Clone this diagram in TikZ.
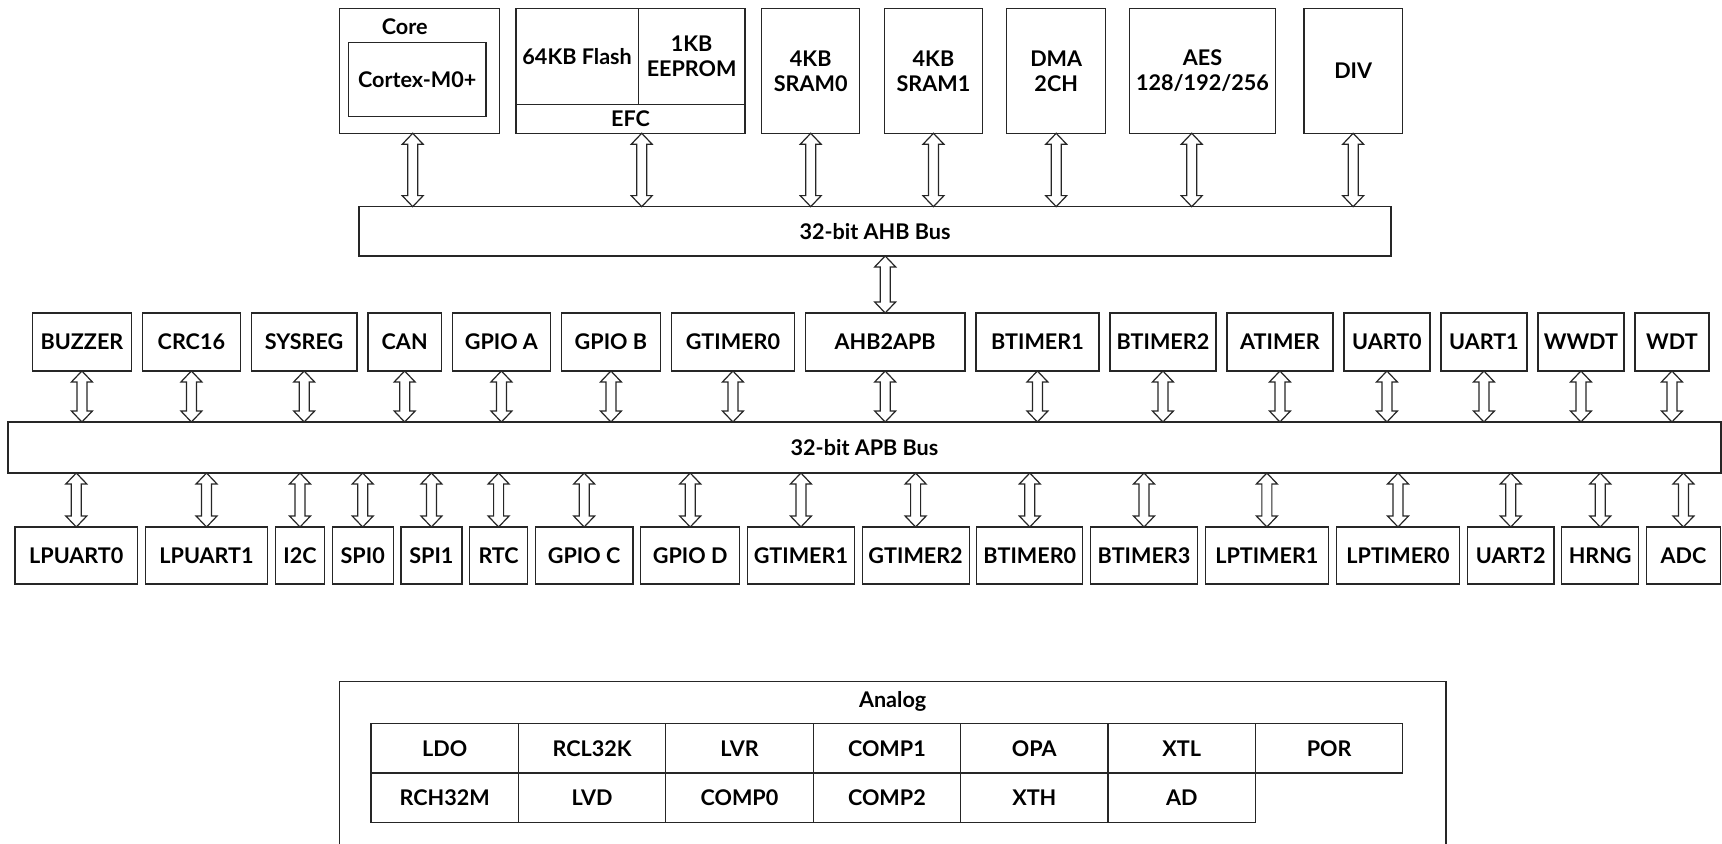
\documentclass[tikz,border=0pt]{standalone}
\usepackage{fontspec}
\setmainfont{Lato}
\usepackage{tikz}
\usetikzlibrary{positioning,calc}

\tikzset{
  box/.style={rectangle,draw=black!85,line width=0.6pt,inner sep=0pt,outer sep=0pt,
              align=center,font=\fontsize{10.8}{12.5}\selectfont\bfseries},
  master/.style={box,anchor=north west,minimum width=#1,minimum height=62.5pt},
  periph/.style={box,minimum width=#1,minimum height=29pt},
  lowper/.style={box,minimum width=#1,minimum height=28.5pt},
  cell/.style={box,minimum width=73.7pt,minimum height=24.75pt},
  lab/.style={inner sep=0pt,font=\fontsize{10.8}{12.5}\selectfont\bfseries},
  % hollow double-headed bus arrow, always drawn from the upper end to the lower end
  hollow/.style={draw=black!85,fill=white,line width=0.6pt,
    to path={let \p1=(\tikztostart), \p2=(\tikztotarget) in
      (\x1,\y1) -- ++(5.25pt,-5.5pt) -- ++(-2.75pt,0pt) -- ({\x1+2.5pt},{\y2+5.5pt})
      -- ++(2.75pt,0pt) -- (\x1,\y2) -- ++(-5.25pt,5.5pt) -- ++(2.75pt,0pt)
      -- ({\x1-2.5pt},{\y1-5.5pt}) -- ++(-2.75pt,0pt) -- cycle}}
}

\begin{document}
\begin{tikzpicture}[x=0.5pt,y=-0.5pt,node distance=5.5pt]
\useasboundingbox (0,0) rectangle (1722,844);
\clip (0,0) rectangle (1722,844);

% AHB masters and memories
\node[master=80pt] (core) at (339.3,8.3) {};
\node[lab] (corelab) at (404.7,27) {Core};
\node[box,minimum width=68.85pt,minimum height=37pt] (cortex) at (417.2,79.7) {Cortex-M0+};
\node[box,anchor=north west,minimum width=61.15pt,minimum height=48pt] (flash) at (516,8.3) {64KB Flash};
\node[box,anchor=north west,minimum width=53.35pt,minimum height=48pt] (eeprom) at (flash.north east) {1KB\\EEPROM};
\node[box,anchor=north west,minimum width=114.5pt,minimum height=14.5pt] (efc) at (flash.south west) {EFC};
\node[master=49pt] (sram0) at (761.7,8.3) {4KB\\SRAM0};
\node[master=49.15pt] (sram1) at (884.3,8.3) {4KB\\SRAM1};
\node[master=49.5pt] (dma) at (1006.7,8.3) {DMA\\2CH};
\node[master=73.2pt] (aes) at (1129.3,8.3) {AES\\128/192/256};
\node[master=49.15pt] (div) at (1304,8.3) {DIV};

\node[box,minimum width=516pt,minimum height=24.65pt] (ahb) at (875,231.3) {32-bit AHB Bus};
\node[box,minimum width=856.5pt,minimum height=25.5pt] (apb) at (864.5,447.5) {32-bit APB Bus};

% peripherals above the APB bus
\node[periph=49.5pt,anchor=north west] (buzzer) at (32.4,313) {BUZZER};
\node[periph=49pt,right=of buzzer] (crc) {CRC16};
\node[periph=52.75pt,right=of crc] (sysreg) {SYSREG};
\node[periph=36.75pt,right=of sysreg] (can) {CAN};
\node[periph=49pt,right=of can] (gpioa) {GPIO A};
\node[periph=49.5pt,right=of gpioa] (gpiob) {GPIO B};
\node[periph=61.5pt,right=of gpiob] (gtimer0) {GTIMER0};
\node[periph=79.75pt,right=of gtimer0] (ahbapb) {AHB2APB};
\node[periph=61.5pt,right=of ahbapb] (btimer1) {BTIMER1};
\node[periph=53pt,right=of btimer1] (btimer2) {BTIMER2};
\node[periph=53pt,right=of btimer2] (atimer) {ATIMER};
\node[periph=43pt,right=of atimer] (uart0) {UART0};
\node[periph=43pt,right=of uart0] (uart1) {UART1};
\node[periph=43pt,right=of uart1] (wwdt) {WWDT};
\node[periph=37pt,right=of wwdt] (wdt) {WDT};

% peripherals below the APB bus
\node[lowper=61.3pt,anchor=north west] (lpuart0) at (15,527) {LPUART0};
\node[lowper=61.25pt,right=3.85pt of lpuart0] (lpuart1) {LPUART1};
\node[lowper=24.5pt,right=3.85pt of lpuart1] (iic) {I2C};
\node[lowper=30.5pt,right=3.85pt of iic] (spi0) {SPI0};
\node[lowper=30.5pt,right=3.85pt of spi0] (spi1) {SPI1};
\node[lowper=29pt,right=3.85pt of spi1] (rtc) {RTC};
\node[lowper=48.85pt,right=3.85pt of rtc] (gpioc) {GPIO C};
\node[lowper=49.5pt,right=3.85pt of gpioc] (gpiod) {GPIO D};
\node[lowper=53.5pt,right=3.85pt of gpiod] (gtimer1) {GTIMER1};
\node[lowper=53.5pt,right=3.85pt of gtimer1] (gtimer2) {GTIMER2};
\node[lowper=53pt,right=3.85pt of gtimer2] (btimer0) {BTIMER0};
\node[lowper=53.5pt,right=3.85pt of btimer0] (btimer3) {BTIMER3};
\node[lowper=61.65pt,right=3.85pt of btimer3] (lptimer1) {LPTIMER1};
\node[lowper=61.8pt,right=3.85pt of lptimer1] (lptimer0) {LPTIMER0};
\node[lowper=43.25pt,right=3.85pt of lptimer0] (uart2) {UART2};
\node[lowper=38.5pt,right=3.85pt of uart2] (hrng) {HRNG};
\node[lowper=37pt,right=3.85pt of hrng] (adc) {ADC};

% analog block
\node[box,anchor=north west,minimum width=553.35pt,minimum height=110pt] (analog) at (339.3,681.7) {};
\node[lab] (analoglab) at ([yshift=-9.65pt]analog.north) {Analog};
\node[cell,anchor=north west] (ldo) at (371,723.5) {LDO};
\node[cell,right=0pt of ldo] (rcl) {RCL32K};
\node[cell,right=0pt of rcl] (lvr) {LVR};
\node[cell,right=0pt of lvr] (comp1) {COMP1};
\node[cell,right=0pt of comp1] (opa) {OPA};
\node[cell,right=0pt of opa] (xtl) {XTL};
\node[cell,right=0pt of xtl] (por) {POR};
\node[cell,below=0pt of ldo] (rch) {RCH32M};
\node[cell,right=0pt of rch] (lvd) {LVD};
\node[cell,right=0pt of lvd] (comp0) {COMP0};
\node[cell,right=0pt of comp0] (comp2) {COMP2};
\node[cell,right=0pt of comp2] (xth) {XTH};
\node[cell,right=0pt of xth] (ad) {AD};

% bus connections
\coordinate (coreport) at ([xshift=-3.3pt]core.south);
\coordinate (efcport) at ([xshift=5.6pt]efc.south);
\coordinate (aesport) at ([xshift=-5.4pt]aes.south);
\draw[hollow] (coreport) to (coreport |- ahb.north);
\draw[hollow] (efcport) to (efcport |- ahb.north);
\draw[hollow] (sram0.south) to (sram0.south |- ahb.north);
\draw[hollow] (sram1.south) to (sram1.south |- ahb.north);
\draw[hollow] (dma.south) to (dma.south |- ahb.north);
\draw[hollow] (aesport) to (aesport |- ahb.north);
\draw[hollow] (div.south) to (div.south |- ahb.north);
\draw[hollow] (ahbapb.north |- ahb.south) to (ahbapb.north);

\draw[hollow] (buzzer.south) to (buzzer.south |- apb.north);
\draw[hollow] (crc.south) to (crc.south |- apb.north);
\draw[hollow] (sysreg.south) to (sysreg.south |- apb.north);
\draw[hollow] (can.south) to (can.south |- apb.north);
\draw[hollow] (gpioa.south) to (gpioa.south |- apb.north);
\draw[hollow] (gpiob.south) to (gpiob.south |- apb.north);
\draw[hollow] (gtimer0.south) to (gtimer0.south |- apb.north);
\draw[hollow] (ahbapb.south) to (ahbapb.south |- apb.north);
\draw[hollow] (btimer1.south) to (btimer1.south |- apb.north);
\draw[hollow] (btimer2.south) to (btimer2.south |- apb.north);
\draw[hollow] (atimer.south) to (atimer.south |- apb.north);
\draw[hollow] (uart0.south) to (uart0.south |- apb.north);
\draw[hollow] (uart1.south) to (uart1.south |- apb.north);
\draw[hollow] (wwdt.south) to (wwdt.south |- apb.north);
\draw[hollow] (wdt.south) to (wdt.south |- apb.north);

\draw[hollow] (lpuart0.north |- apb.south) to (lpuart0.north);
\draw[hollow] (lpuart1.north |- apb.south) to (lpuart1.north);
\draw[hollow] (iic.north |- apb.south) to (iic.north);
\draw[hollow] (spi0.north |- apb.south) to (spi0.north);
\draw[hollow] (spi1.north |- apb.south) to (spi1.north);
\draw[hollow] (rtc.north |- apb.south) to (rtc.north);
\draw[hollow] (gpioc.north |- apb.south) to (gpioc.north);
\draw[hollow] (gpiod.north |- apb.south) to (gpiod.north);
\draw[hollow] (gtimer1.north |- apb.south) to (gtimer1.north);
\draw[hollow] (gtimer2.north |- apb.south) to (gtimer2.north);
\draw[hollow] (btimer0.north |- apb.south) to (btimer0.north);
\draw[hollow] (btimer3.north |- apb.south) to (btimer3.north);
\draw[hollow] (lptimer1.north |- apb.south) to (lptimer1.north);
\draw[hollow] (lptimer0.north |- apb.south) to (lptimer0.north);
\draw[hollow] (uart2.north |- apb.south) to (uart2.north);
\draw[hollow] (hrng.north |- apb.south) to (hrng.north);
\draw[hollow] (adc.north |- apb.south) to (adc.north);
\end{tikzpicture}
\end{document}
